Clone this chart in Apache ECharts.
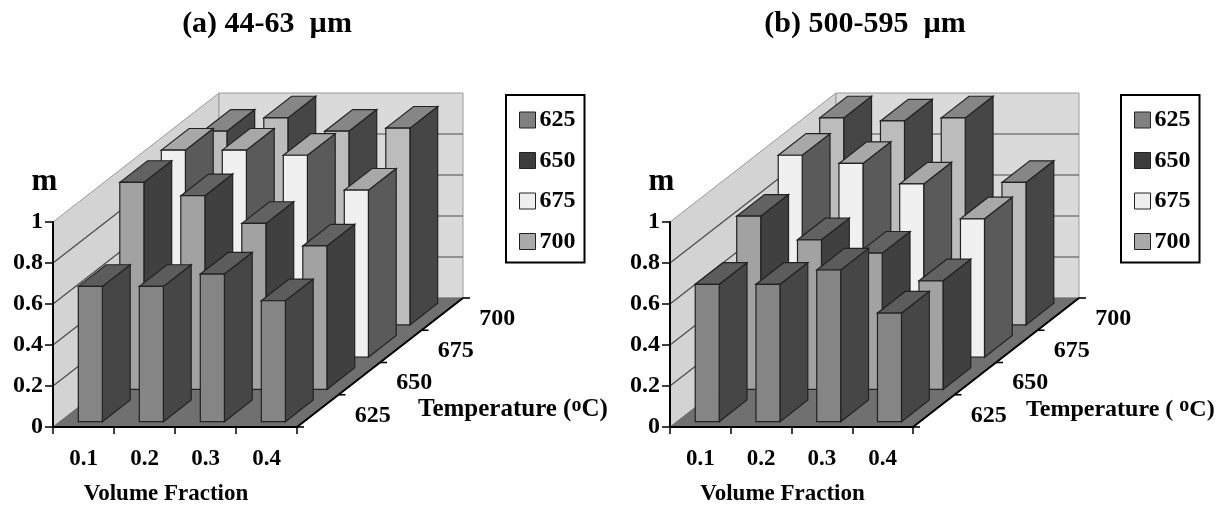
<!DOCTYPE html>
<html><head><meta charset="utf-8">
<style>html,body{margin:0;padding:0;background:#fff}#c{width:1223px;height:507px}</style>
<script src="https://cdn.jsdelivr.net/npm/echarts@6/dist/echarts.min.js"></script>
</head><body><div id="c"></div>
<script>
const volumeFractions = ['0.1', '0.2', '0.3', '0.4'];
const temperatures = ['625', '650', '675', '700'];
const yTicks = [0, 0.2, 0.4, 0.6, 0.8, 1];

// panel (a) 44-63 um
const a625 = [0.66, 0.66, 0.72, 0.59];
const a650 = [1.01, 0.945, 0.81, 0.70];
const a675 = [1.01, 1.01, 0.985, 0.815];
const a700 = [0.945, 1.01, 0.945, 0.96];
// panel (b) 500-595 um
const b625 = [0.67, 0.67, 0.74, 0.53];
const b650 = [0.845, 0.73, 0.665, 0.53];
const b675 = [0.985, 0.945, 0.845, 0.675];
const b700 = [1.01, 0.995, 1.01, 0.695];

const titleA = '(a) 44-63  µm';
const titleB = '(b) 500-595  µm';
const tempNameA = 'Temperature (';
const tempNameB = 'Temperature ( ';

const FONT = '"Liberation Serif","Times New Roman",serif';
const ROW_DX = 41.5, ROW_DY = -32.25;
const ROW_NEAR = 0.165, BAR_DEPTH = 0.67, BAR_WIDTH = 0.395;
const faces = {
  '625': {front: '#858585', side: '#464646', top: '#5c5c5c', legend: '#808080'},
  '650': {front: '#a2a2a2', side: '#404040', top: '#626262', legend: '#3c3c3c'},
  '675': {front: '#f0f0f0', side: '#5a5a5a', top: '#a8a8a8', legend: '#eeeeee'},
  '700': {front: '#bcbcbc', side: '#464646', top: '#868686', legend: '#a9a9a9'}
};
const EDGE = '#222222';

function poly(points, fill, stroke, lw) {
  return {type: 'polygon', shape: {points}, style: {fill, stroke: stroke || EDGE, lineWidth: lw === undefined ? 1.2 : lw}};
}
function line(p, q, stroke, lw) {
  return {type: 'line', shape: {x1: p[0], y1: p[1], x2: q[0], y2: q[1]}, style: {stroke, lineWidth: lw, fill: null}};
}

function barSeries(name, values, gridIndex, row) {
  const f = faces[name];
  return {
    name, type: 'custom', xAxisIndex: gridIndex, yAxisIndex: gridIndex, silent: true,
    itemStyle: {color: f.legend},
    encode: {x: 0, y: 1},
    data: values.map((v, i) => [i, v]),
    renderItem(params, api) {
      const base = api.coord([api.value(0), 0]);
      const top = api.coord([api.value(0), api.value(1)]);
      const w = api.size([1, 0])[0] * BAR_WIDTH;
      const ox = ROW_DX * (row + ROW_NEAR), oy = ROW_DY * (row + ROW_NEAR);
      const dx = ROW_DX * BAR_DEPTH, dy = ROW_DY * BAR_DEPTH;
      const l = base[0] - w / 2 + ox, r = base[0] + w / 2 + ox;
      const b = base[1] + oy, t = top[1] + oy;
      return {type: 'group', children: [
        poly([[r, t], [r + dx, t + dy], [r + dx, b + dy], [r, b]], f.side),
        poly([[l, t], [l + dx, t + dy], [r + dx, t + dy], [r, t]], f.top),
        poly([[l, t], [r, t], [r, b], [l, b]], f.front)
      ]};
    }
  };
}

function frameSeries(gridIndex, tempName, nameDx, nameSize) {
  return {
    type: 'custom', xAxisIndex: gridIndex, yAxisIndex: gridIndex, silent: true, z: 1,
    data: [[0, 0]],
    renderItem(params, api) {
      const n = temperatures.length, m = volumeFractions.length;
      const cw = api.size([1, 0])[0];
      const o = api.coord([0, 0]), c0 = o[0] - cw / 2, y0 = o[1];
      const y1 = api.coord([0, 1])[1];
      const Dx = ROW_DX * n, Dy = ROW_DY * n;
      const xr = c0 + cw * m;
      const kids = [
        poly([[c0, y0], [c0, y1], [c0 + Dx, y1 + Dy], [c0 + Dx, y0 + Dy]], '#d3d3d3', '#9a9a9a', 1),
        poly([[c0 + Dx, y1 + Dy], [xr + Dx, y1 + Dy], [xr + Dx, y0 + Dy], [c0 + Dx, y0 + Dy]], '#dadada', '#9a9a9a', 1),
        poly([[c0, y0], [xr, y0], [xr + Dx, y0 + Dy], [c0 + Dx, y0 + Dy]], '#707070', '#707070', 1)
      ];
      yTicks.slice(1, -1).forEach(v => {
        const y = api.coord([0, v])[1];
        kids.push(line([c0, y], [c0 + Dx, y + Dy], '#4a4a4a', 1.2));
        kids.push(line([c0 + Dx, y + Dy], [xr + Dx, y + Dy], '#4a4a4a', 1.2));
      });
      kids.push(line([xr, y0], [xr + Dx, y0 + Dy], '#000', 2));
      for (let i = 0; i <= n; i++) {
        const px = xr + ROW_DX * i, py = y0 + ROW_DY * i;
        kids.push(line([px, py], [px + 7, py], '#000', 1.6));
      }
      temperatures.forEach((t, i) => {
        kids.push({type: 'text', style: {
          text: t, x: xr + ROW_DX * (i + 0.5) + 55, y: y0 + ROW_DY * (i + 0.5) + 4.5,
          align: 'center', verticalAlign: 'middle', fill: '#000',
          font: 'bold 24px ' + FONT
        }});
      });
      kids.push({type: 'text', style: {
        text: tempName + '{sup|o}C)', x: xr + nameDx, y: y0 - 17,
        align: 'left', verticalAlign: 'middle', fill: '#000',
        font: 'bold ' + nameSize + 'px ' + FONT,
        rich: {sup: {font: 'bold 20px ' + FONT, fill: '#000', verticalAlign: 'top', padding: [0, 0, 8, 0]}}
      }});
      return {type: 'group', children: kids};
    }
  };
}

function xAxis(gridIndex) {
  return {
    type: 'category', gridIndex, data: volumeFractions, boundaryGap: true, z: 5,
    name: 'Volume Fraction', nameLocation: 'middle', nameGap: 56,
    nameTextStyle: {fontFamily: FONT, fontWeight: 'bold', fontSize: 23, color: '#000', padding: [0, 18, 0, 0]},
    axisLine: {lineStyle: {color: '#000', width: 2}},
    axisTick: {show: true, length: 7, alignWithLabel: false, lineStyle: {color: '#000', width: 1.5}},
    axisLabel: {fontFamily: FONT, fontWeight: 'bold', fontSize: 23, color: '#000', margin: 21},
    splitLine: {show: false}
  };
}
function yAxis(gridIndex) {
  return {
    type: 'value', gridIndex, min: 0, max: 1, interval: 0.2, z: 5,
    name: 'm', nameLocation: 'end', nameGap: 25,
    nameTextStyle: {fontFamily: FONT, fontWeight: 'bold', fontSize: 31, color: '#000', align: 'center', padding: [0, 17, 0, 0]},
    axisLine: {show: true, lineStyle: {color: '#000', width: 2}},
    axisTick: {show: true, length: 8, lineStyle: {color: '#000', width: 1.5}},
    axisLabel: {fontFamily: FONT, fontWeight: 'bold', fontSize: 24, color: '#000', margin: 10, padding: [3, 0, 0, 0]},
    splitLine: {show: false}
  };
}
function legend(left) {
  return {
    left, top: 95, orient: 'vertical', padding: [13, 9, 9, 13],
    borderColor: '#000', borderWidth: 2, backgroundColor: '#fff',
    itemWidth: 16, itemHeight: 16, itemGap: 16.5, itemStyle: {},
    selectedMode: false, icon: 'rect',
    textStyle: {fontFamily: FONT, fontWeight: 'bold', fontSize: 24, color: '#000', padding: [0, 0, 0, -1]},
    data: temperatures.map(t => ({
      name: t,
      itemStyle: {color: faces[t].legend, borderColor: '#222', borderWidth: 1}
    }))
  };
}

const chart = echarts.init(document.getElementById('c'), null, {renderer: 'canvas'});
chart.setOption({
  animation: false,
  backgroundColor: '#fff',
  title: [
    {text: titleA, left: 262, top: 4, textAlign: 'center', textStyle: {fontFamily: FONT, fontWeight: 'bold', fontSize: 30, color: '#000'}},
    {text: titleB, left: 860, top: 4, textAlign: 'center', textStyle: {fontFamily: FONT, fontWeight: 'bold', fontSize: 30, color: '#000'}}
  ],
  grid: [
    {left: 53, top: 222, width: 244, height: 205, outerBoundsMode: 'none'},
    {left: 670, top: 222, width: 243, height: 205, outerBoundsMode: 'none'}
  ],
  xAxis: [xAxis(0), xAxis(1)],
  yAxis: [yAxis(0), yAxis(1)],
  legend: [legend(506), legend(1121)],
  series: [
    frameSeries(0, tempNameA, 121, 25),
    barSeries('700', a700, 0, 3), barSeries('675', a675, 0, 2),
    barSeries('650', a650, 0, 1), barSeries('625', a625, 0, 0),
    frameSeries(1, tempNameB, 113, 24),
    barSeries('700', b700, 1, 3), barSeries('675', b675, 1, 2),
    barSeries('650', b650, 1, 1), barSeries('625', b625, 1, 0)
  ]
});
</script></body></html>
